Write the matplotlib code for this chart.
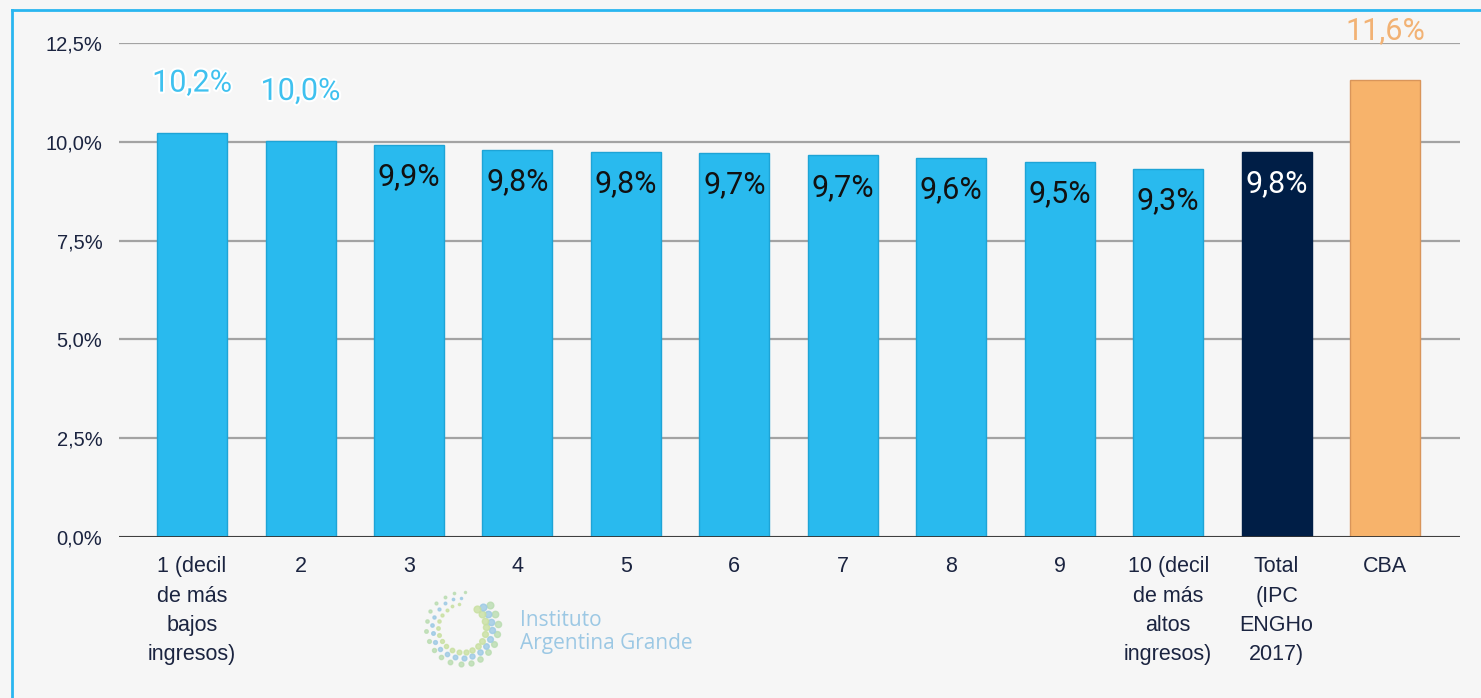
import numpy as np
import matplotlib.pyplot as plt
import matplotlib.patheffects as pe
from matplotlib.lines import Line2D

categories = ['1 (decil\nde más\nbajos\ningresos)', '2', '3', '4', '5', '6', '7', '8', '9',
              '10 (decil\nde más\naltos\ningresos)', 'Total\n(IPC\nENGHo\n2017)', 'CBA']
values = [10.22, 10.01, 9.92, 9.79, 9.75, 9.72, 9.66, 9.59, 9.49, 9.31, 9.75, 11.56]
yticks = [0, 2.5, 5.0, 7.5, 10.0, 12.5]

light = '#29baee'
navy = '#001e46'
orange = '#f7b36b'
colors = [light] * 10 + [navy, orange]
edges = ['#1ea4d6'] * 10 + [navy, '#d9955a']

fig = plt.figure(figsize=(14.81, 6.98), dpi=100, facecolor='#f6f6f6')
ax = fig.add_axes([0.0804, 0.2307, 0.9054, 0.7077])
ax.set_facecolor('#f6f6f6')

x = np.arange(len(values))
ax.bar(x, values, width=0.645, color=colors, edgecolor=edges, linewidth=1, zorder=3)

ax.set_ylim(0, 12.5)
ax.set_xlim(-0.673, 11.69)
ax.set_yticks(yticks)
ax.set_yticklabels([('%.1f%%' % t).replace('.', ',') for t in yticks],
                   fontsize=14.5, color='#1b2440', family='Liberation Sans')
ax.set_xticks(x)
ax.set_xticklabels(categories, fontsize=15.5, color='#1b2440', family='Liberation Sans',
                   linespacing=1.52, va='top')
ax.tick_params(axis='both', length=0)
ax.tick_params(axis='y', pad=12)
ax.tick_params(axis='x', pad=14)
ax.grid(axis='y', color='#a3a3a3', linewidth=1.6, zorder=0)
for s in ax.spines.values():
    s.set_visible(False)
ax.axhline(0, color='#333333', linewidth=2, zorder=4)

for xi, v, c in zip(x, values, colors):
    txt = ('%.1f%%' % v).replace('.', ',')
    if v >= 10:
        lc = '#3fc1ef' if c == light else '#f2b274'
        ax.annotate(txt, (xi, v), xytext=(0, 36), textcoords='offset points',
                    ha='center', va='center', fontsize=22, color=lc, family='Roboto',
                    annotation_clip=False,
                    path_effects=[pe.withStroke(linewidth=3, foreground='white')] if c == light else None)
    else:
        tc = 'white' if c == navy else '#111111'
        ax.annotate(txt, (xi, v), xytext=(0, -23), textcoords='offset points',
                    ha='center', va='center', fontsize=22, color=tc, family='Roboto', zorder=5)

# frame lines
fig.add_artist(Line2D([12 / 1481, 1], [1 - 10 / 698, 1 - 10 / 698], color='#29b6f0', lw=2))
fig.add_artist(Line2D([12 / 1481, 12 / 1481], [0, 1 - 10 / 698], color='#29b6f0', lw=2))

# logo
cx, cy = 462 / 1481, 1 - 628 / 698
t = np.linspace(0.3, 2 * np.pi * 0.95, 60)
for k, th in enumerate(t):
    r = 36 - 12 * (k % 3) / 2
    px = cx + r * np.cos(th + 1.2) / 1481
    py = cy + r * np.sin(th + 1.2) / 698
    col = ['#b9dcb0', '#9cc9e4', '#c8e0a0'][k % 3]
    fig.add_artist(Line2D([px], [py], marker='o', ms=1.5 + 3.5 * k / 60, color=col, alpha=0.8, lw=0))
fig.text(520 / 1481, 1 - 620 / 698, 'Instituto', fontsize=15, color='#9cc8e4',
         family='Open Sans', va='center')
fig.text(520 / 1481, 1 - 643 / 698, 'Argentina Grande', fontsize=15, color='#9cc8e4',
         family='Open Sans', va='center')

fig.savefig('out.png', dpi=100, facecolor=fig.get_facecolor())
